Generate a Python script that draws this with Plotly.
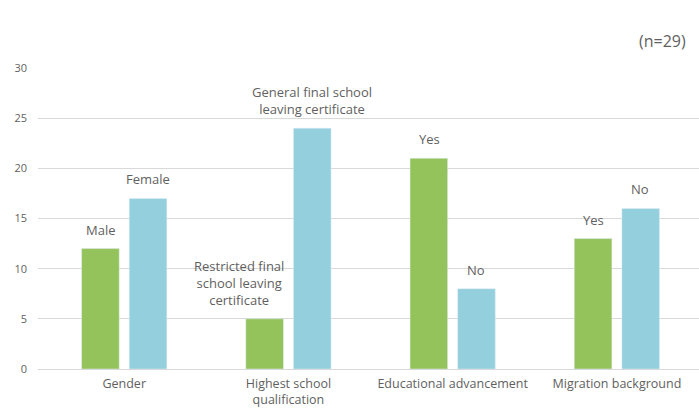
import plotly.graph_objects as go

# Survey sample characteristics (n=29)
categories = ["Gender", "Highest school<br>qualification", "Educational advancement", "Migration background"]
first_values = [12, 5, 21, 13]
second_values = [17, 24, 8, 16]
first_labels = ["Male", "Restricted final<br>school leaving<br>certificate", "Yes", "Yes"]
second_labels = ["Female", "General final school<br>leaving certificate", "No", "No"]
y_ticks = [0, 5, 10, 15, 20, 25, 30]

GREEN = "#93c35a"
BLUE = "#93cfdc"
TEXT = "#5f5f5f"
FONT = "Open Sans"

fig = go.Figure()
fig.add_trace(go.Bar(x=categories, y=first_values, marker_color=GREEN, name="first"))
fig.add_trace(go.Bar(x=categories, y=second_values, marker_color=BLUE, name="second"))

# value-category labels placed above each bar
for i, cat in enumerate(categories):
    shift_first = -23.5 - (26 if i == 1 else 0)
    fig.add_annotation(x=cat, y=first_values[i], text=first_labels[i], xref="x", yref="y",
                       xshift=shift_first, yshift=8, yanchor="bottom", showarrow=False,
                       font=dict(family=FONT, size=13, color=TEXT), align="center")
    fig.add_annotation(x=cat, y=second_values[i], text=second_labels[i], xref="x", yref="y",
                       xshift=23.5, yshift=8, yanchor="bottom", showarrow=False,
                       font=dict(family=FONT, size=13, color=TEXT), align="center")

fig.add_annotation(x=1, y=1, xref="paper", yref="paper", xanchor="right", yanchor="bottom",
                   xshift=-11, yshift=14, text="(n=29)", showarrow=False,
                   font=dict(family=FONT, size=16, color=TEXT))

fig.update_layout(
    width=699, height=411,
    margin=dict(l=38, r=0, t=68, b=42),
    paper_bgcolor="white", plot_bgcolor="white",
    barmode="group", bargap=0.42, bargroupgap=0.21,
    showlegend=False,
    font=dict(family=FONT, size=12, color=TEXT),
)
fig.update_xaxes(range=[-0.525, 3.5], showgrid=False, showline=True, linecolor="#d9d9d9",
                 ticks="", ticklabelstandoff=3, tickfont=dict(size=12.5, color=TEXT))
fig.update_yaxes(range=[0, 30], tickvals=y_ticks, showgrid=True, gridcolor="#d9d9d9",
                 zeroline=False, ticks="", ticklabelstandoff=10, tickfont=dict(size=11, color=TEXT))

fig.write_html("out.html")
